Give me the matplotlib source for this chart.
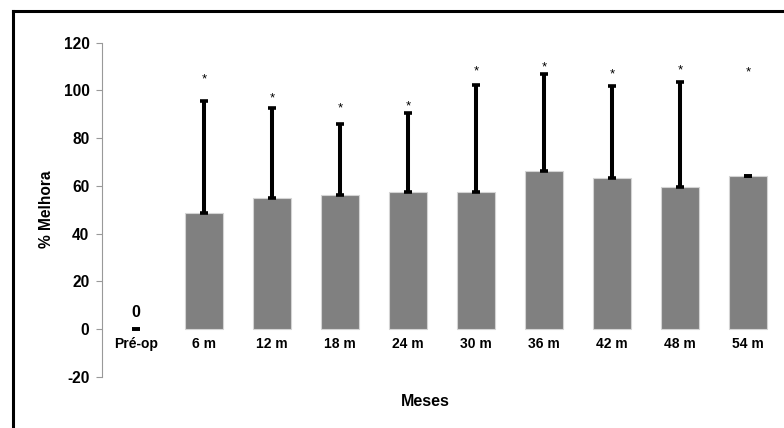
import matplotlib
matplotlib.use("Agg")
import matplotlib.pyplot as plt
from matplotlib.lines import Line2D

plt.rcParams['font.family'] = ['Liberation Sans', 'DejaVu Sans']
plt.rcParams['font.weight'] = 'bold'
plt.rcParams['axes.unicode_minus'] = False

# Improvement (%) by follow-up month, mean and upper SD
periods = ["Pré-op", "6 m", "12 m", "18 m", "24 m", "30 m", "36 m", "42 m", "48 m", "54 m"]
mean_pct = [0, 48.6, 55.0, 56.2, 57.3, 57.3, 66.3, 63.2, 59.4, 64.3]
sd_pct = [0, 47.1, 37.8, 29.7, 33.4, 45.0, 40.6, 38.6, 44.1, 0.0]
# height of the significance marks above each post-op bar
star_y = [None, 106.3, 98.4, 94.2, 94.9, 109.5, 111.3, 108.2, 110.0, 109.1]

fig = plt.figure(figsize=(7.84, 4.28), dpi=100)
ax = fig.add_axes([0.1301, 0.1199, 0.8673, 0.7803])

x = list(range(len(periods)))
edges = ["none" if v == 0 else "#d4d4d4" for v in mean_pct]
ax.bar(x, mean_pct, width=0.56, color="#808080", edgecolor=edges,
       linewidth=0.8, zorder=2)
ax.errorbar(x, mean_pct, yerr=[[0] * len(sd_pct), sd_pct], fmt="none",
            ecolor="black", elinewidth=2.9, capsize=3.1, capthick=2.6, zorder=3)

# value label for the baseline category
ax.annotate(str(mean_pct[0]), (0, mean_pct[0]), xytext=(0, 12),
            textcoords="offset points", ha="center", va="center",
            fontsize=11.5, fontweight="bold")

for xi, sy in zip(x, star_y):
    if sy is None:
        continue
    ax.annotate("*", (xi, sy), xytext=(0, -5), textcoords="offset points",
                ha="center", va="baseline", fontsize=9.5, fontweight="normal")

ax.set_xlim(-0.5, len(periods) - 0.5)
ax.set_ylim(-20, 120)
ax.set_yticks(range(-20, 121, 20))
ax.tick_params(axis="y", direction="out", length=4, width=0.8, color="#999999",
               pad=5, labelsize=11.2)

ax.set_xticks(x)
ax.set_xticklabels(periods, fontsize=11.7, fontweight="bold")
ax.spines["bottom"].set_position(("data", 0))
ax.spines["bottom"].set_visible(False)
ax.tick_params(axis="x", length=0, pad=5.5)

for side in ("top", "right"):
    ax.spines[side].set_visible(False)
ax.spines["left"].set_color("#999999")
ax.spines["left"].set_linewidth(0.8)

ax.set_xlabel("Meses", fontsize=11.5, fontweight="bold", va="center")
ax.xaxis.set_label_coords(0.476, -0.075)
ax.set_ylabel("% Melhora", fontsize=11.2, fontweight="bold", va="center")
ax.yaxis.set_label_coords(-0.0813, 0.5)

# outer frame around the chart area
fig.add_artist(Line2D([13.5 / 784, 13.5 / 784], [0, 1 - 10.5 / 428],
                      transform=fig.transFigure, color="black", linewidth=2.2))
fig.add_artist(Line2D([12.5 / 784, 1], [1 - 10.5 / 428, 1 - 10.5 / 428],
                      transform=fig.transFigure, color="black", linewidth=2.2))

fig.savefig("out.png", dpi=100)
